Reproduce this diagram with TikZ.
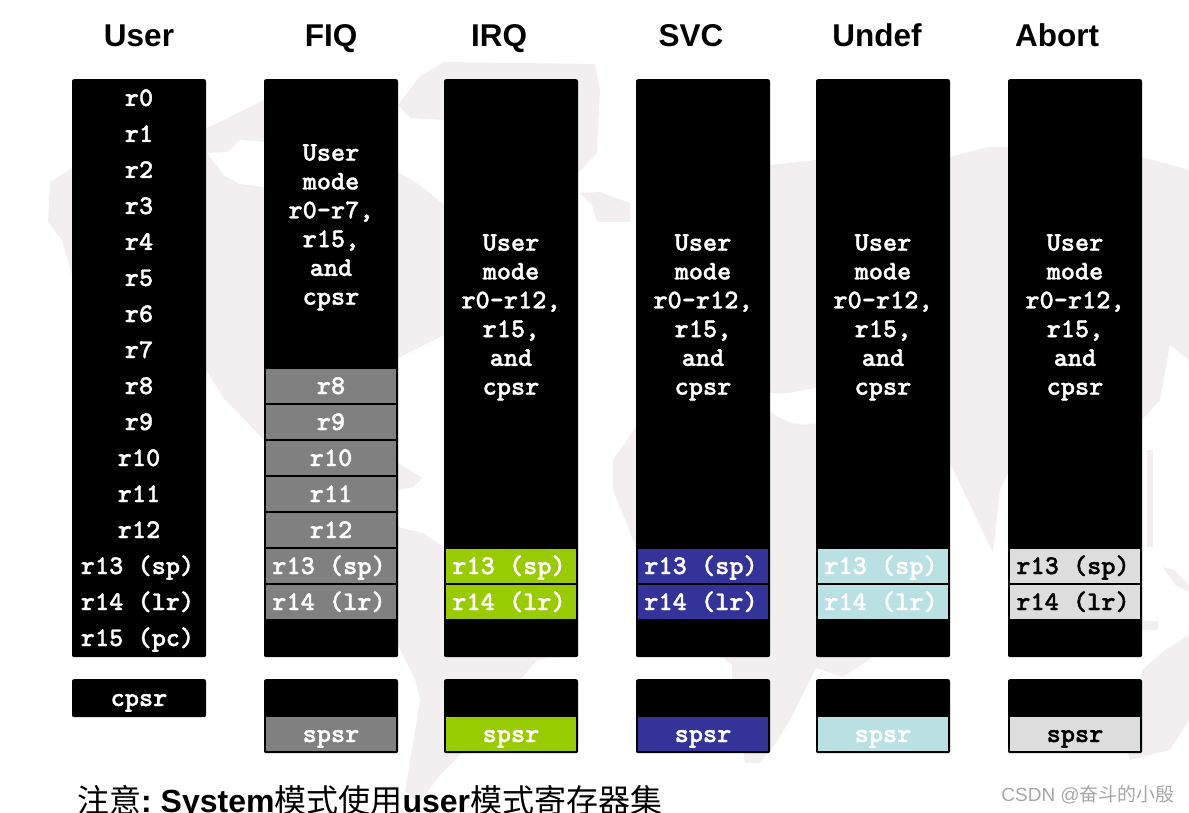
\documentclass[tikz,border=0pt]{standalone}
\usepackage{fontspec}
\setmainfont{Liberation Sans}
\newfontfamily\cjkfont{Noto Sans CJK SC}
\newfontfamily\regfont{lmmonolt10-bold.otf}[FakeBold=1.2]
\definecolor{mapgray}{HTML}{F3EFF0}
\definecolor{cellgray}{HTML}{808080}
\definecolor{cellgreen}{HTML}{99CC00}
\definecolor{cellblue}{HTML}{333399}
\definecolor{celllight}{HTML}{B9E0E3}
\definecolor{cellsilver}{HTML}{DDDDDD}
\newcommand{\regsize}{\fontsize{27}{28.8}\selectfont\regfont}
\tikzset{
  blackbox/.style={fill=black,rounded corners=2pt,inner sep=0pt,minimum width=134pt,anchor=north},
  cellbox/.style={inner sep=0pt,minimum width=130pt,minimum height=34pt},
  reglabel/.style={inner sep=0pt,anchor=base,font=\regsize},
  modelabel/.style={inner sep=0pt,anchor=north,align=center,text=white,font=\regsize},
  headlabel/.style={inner sep=0pt,anchor=base,font=\fontsize{31.5}{31.5}\selectfont\bfseries},
  mapshape/.style={fill=mapgray,draw=none}
}
% \cell{name}{x}{y}{fill}{text colour}{text}{x offset}
\newcommand{\regcell}[7]{%
  \node[cellbox,fill=#4] (#1) at (#2,#3) {};
  \node[reglabel,text=#5] (#1t) at ([xshift=#7pt,yshift=-8pt]#1.center) {#6};
}
\newcommand{\banked}[4]{%
  \regcell{#1sp}{#2}{566}{#3}{#4}{r13 (sp)}{-2}
  \regcell{#1lr}{#2}{602}{#3}{#4}{r14 (lr)}{-2}
  \regcell{#1spsr}{#2}{734}{#3}{#4}{spsr}{0}
}
\begin{document}
\begin{tikzpicture}[x=1pt,y=-1pt]
\clip (0,0) rectangle (1189,813);
\useasboundingbox (0,0) rectangle (1189,813);
% faint world map in the background
\fill[mapshape] (50,182) -- (72,168) -- (207,128) -- (264,100) -- (300,100) -- (300,460) -- (264,440) -- (245,420) -- (225,400) -- (206,370) -- (72,275) -- (62,240) -- (48,222) -- cycle;
\fill[white] (207,153) -- (228,152) -- (240,140) -- (264,142) -- (264,187) -- (240,184) -- (225,176) -- cycle;
\fill[mapshape] (398,172) -- (420,185) -- (444,205) -- (444,335) -- (398,358) -- cycle;
\fill[mapshape] (398,105) -- (420,76) -- (444,62) -- (595,64) -- (600,90) -- (597,153) -- (578,173) -- (444,120) -- (410,118) -- cycle;
\fill[mapshape] (580,193) -- (600,192) -- (630,203) -- (630,222) -- (597,222) -- (592,205) -- cycle;
\fill[mapshape] (398,463) -- (423,478) -- (413,487) -- (398,490) -- cycle;
\fill[mapshape] (398,527) -- (423,533) -- (444,547) -- (578,600) -- (578,655) -- (537,660) -- (520,680) -- (480,740) -- (460,755) -- (440,775) -- (420,802) -- (405,792) -- (420,700) -- (415,680) -- (398,645) -- cycle;
\fill[mapshape] (636,427) -- (613,460) -- (613,490) -- (636,547) -- (700,640) -- (732,665) -- (732,690) -- (745,763) -- (760,763) -- (775,745) -- (790,720) -- (816,668) -- (843,677) -- (873,657) -- (950,463) -- (993,553) -- (1000,490) -- (1008,473) -- (1142,420) -- (1160,400) -- (1170,345) -- (1189,360) -- (1189,170) -- (1142,157) -- (1008,147) -- (987,147) -- (950,157) -- (816,160) -- (770,165) -- (690,170) -- cycle;
\fill[white] (770,393) .. controls (790,395) and (800,390) .. (816,388) -- (816,423) .. controls (795,428) and (785,420) .. (770,412) -- cycle;
\fill[mapshape] (1147,450) -- (1153,450) -- (1153,547) -- (1147,547) -- cycle;
\fill[mapshape] (1163,567) -- (1175,570) -- (1189,585) -- (1189,592) -- (1175,585) -- cycle;
\fill[mapshape] (1142,620) -- (1158,622) -- (1158,630) -- (1142,630) -- cycle;
\fill[mapshape] (1142,670) -- (1165,650) -- (1189,635) -- (1189,720) -- (1170,750) -- (1130,760) -- (1127,752) -- cycle;
% headings
\node[headlabel] (hUser) at (139,47) {User};
\node[headlabel] (hFIQ) at (331,47) {FIQ};
\node[headlabel] (hIRQ) at (499,47) {IRQ};
\node[headlabel] (hSVC) at (691,47) {SVC};
\node[headlabel] (hUndef) at (877,47) {Undef};
\node[headlabel] (hAbort) at (1057,47) {Abort};
% columns
\foreach \n/\x in {User/139,FIQ/331,IRQ/511,SVC/703,Undef/883,Abort/1075}{
  \node[blackbox,minimum height=578pt] (col\n) at (\x,79) {};
}
\node[blackbox,minimum height=38pt] (lowUser) at (139,679) {};
\foreach \n/\x in {FIQ/331,IRQ/511,SVC/703,Undef/883,Abort/1075}{
  \node[blackbox,minimum height=74pt] (low\n) at (\x,679) {};
}
% User column
\foreach \t/\y in {r0/98,r1/134,r2/170,r3/206,r4/242,r5/278,r6/314,r7/350,r8/386,r9/422,r10/458,r11/494,r12/530}{
  \node[reglabel,text=white] (u\t) at (139,\y+8) {\t};
}
\node[reglabel,text=white] (ur13) at (137.5,574) {r13 (sp)};
\node[reglabel,text=white] (ur14) at (137.5,610) {r14 (lr)};
\node[reglabel,text=white] (ur15) at (137.5,646) {r15 (pc)};
\node[reglabel,text=white] (ucpsr) at (139,706) {cpsr};
% FIQ banked registers
\regcell{f8}{331}{386}{cellgray}{white}{r8}{0}
\regcell{f9}{331}{422}{cellgray}{white}{r9}{0}
\regcell{f10}{331}{458}{cellgray}{white}{r10}{0}
\regcell{f11}{331}{494}{cellgray}{white}{r11}{0}
\regcell{f12}{331}{530}{cellgray}{white}{r12}{0}
\banked{f}{331}{cellgray}{white}
\banked{i}{511}{cellgreen}{white}
\banked{s}{703}{cellblue}{white}
\banked{n}{883}{celllight}{white}
\banked{a}{1075}{cellsilver}{black}
% mode texts
\node[modelabel] (mFIQ) at (331,144) {User\\mode\\r0-r7,\\r15,\\and\\cpsr};
\node[modelabel] (mIRQ) at (511,234) {User\\mode\\r0-r12,\\r15,\\and\\cpsr};
\node[modelabel] (mSVC) at (703,234) {User\\mode\\r0-r12,\\r15,\\and\\cpsr};
\node[modelabel] (mUndef) at (883,234) {User\\mode\\r0-r12,\\r15,\\and\\cpsr};
\node[modelabel] (mAbort) at (1075,234) {User\\mode\\r0-r12,\\r15,\\and\\cpsr};
% note and watermark
\node[inner sep=0pt,anchor=base west,font=\fontsize{32}{32}\selectfont] (note) at (77,812) {{\cjkfont 注意}\textbf{:\ System}{\cjkfont 模式使用}\textbf{user}{\cjkfont 模式寄存器集}};
\node[inner sep=0pt,anchor=base east,text=black!35,font=\fontsize{19}{19}\selectfont] (mark) at (1175,801) {CSDN @{\cjkfont 奋斗的小殷}};
\end{tikzpicture}
\end{document}
